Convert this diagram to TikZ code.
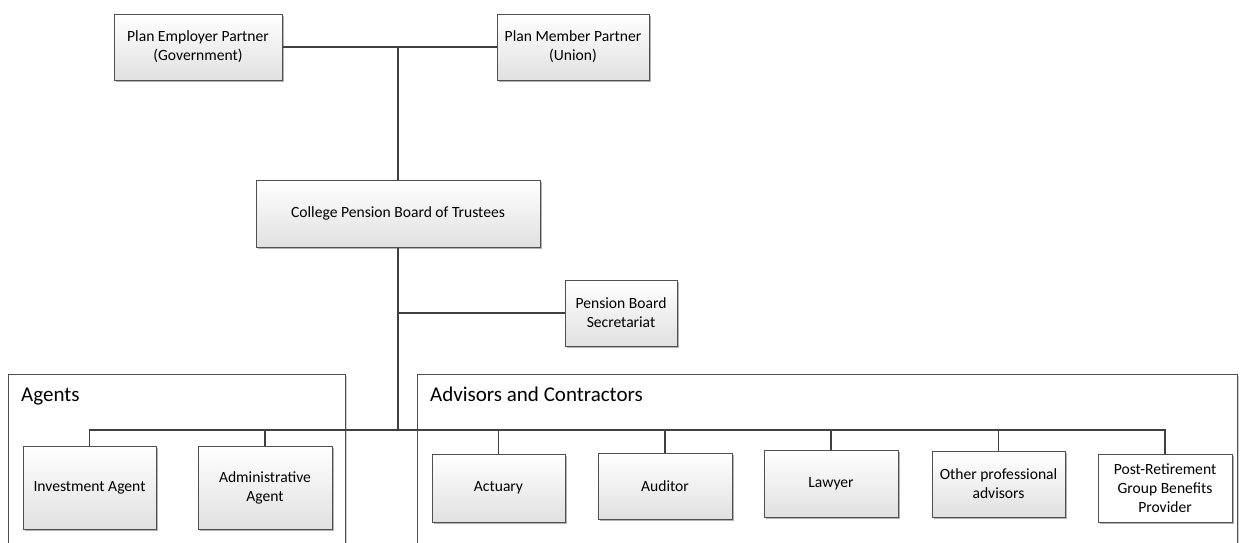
\documentclass[tikz,border=0pt]{standalone}
\usepackage{fontspec}
\setmainfont{Carlito}
\usetikzlibrary{shadows}
\definecolor{linec}{HTML}{404040}
\definecolor{boxc}{HTML}{505050}
\tikzset{
  box/.style={draw=boxc, line width=1pt, top color=white, bottom color=black!12,
    drop shadow={shadow xshift=2pt, shadow yshift=-2pt, fill=black!30, opacity=1},
    align=center, font=\fontsize{15.6}{19}\selectfont, inner sep=2pt},
  wbox/.style={box, top color=white, bottom color=white},
  frame/.style={draw=boxc, line width=1pt, fill=white,
    drop shadow={shadow xshift=2pt, shadow yshift=-2pt, fill=black!20, opacity=1}},
  conn/.style={draw=linec, line width=1.6pt},
  grp/.style={anchor=base west, font=\fontsize{21}{25}\selectfont, inner sep=0pt}
}
\begin{document}
\begin{tikzpicture}[x=1pt,y=-1pt]
\clip (0,0) rectangle (1246,542);
\fill[white] (0,0) rectangle (1246,542);
% frames
\path[frame] (8,374) rectangle (345,580);
\path[frame] (417,374) rectangle (1237,580);
\node[grp] (lagents) at (21,401) {Agents};
\node[grp] (ladv) at (430,401) {Advisors and Contractors};
% top
\node[box, minimum width=168pt, minimum height=66pt] (emp) at (198,47) {Plan Employer Partner\\(Government)};
\node[box, minimum width=152pt, minimum height=66pt] (mem) at (573,47) {Plan Member Partner\\(Union)};
\node[box, minimum width=284pt, minimum height=67pt] (college) at (398,213.5) {College Pension Board of Trustees};
\node[box, minimum width=112pt, minimum height=66pt] (sec) at (621,313) {Pension Board\\Secretariat};
% bottom
\node[box, minimum width=133pt, minimum height=83pt] (inv) at (89.5,487.5) {Investment Agent};
\node[box, minimum width=134pt, minimum height=83pt] (adm) at (265,487.5) {Administrative\\Agent};
\node[box, minimum width=133pt, minimum height=68pt] (act) at (498.5,488) {Actuary};
\node[box, minimum width=134pt, minimum height=66pt] (aud) at (665,486) {Auditor};
\node[box, minimum width=134pt, minimum height=67pt] (law) at (831,483.5) {Lawyer};
\node[box, minimum width=133pt, minimum height=66pt] (oth) at (998.5,484) {Other professional\\advisors};
\node[wbox, minimum width=134pt, minimum height=68pt] (post) at (1165,488) {Post-Retirement\\Group Benefits\\Provider};
\coordinate (top) at (398,47);
\coordinate (bus) at (398,430);
% connectors
\draw[conn] (emp.east) -- (mem.west);
\draw[conn] (top) -- (college.north);
\draw[conn] (college.south) -- (bus);
\draw[conn] (college.south |- sec.west) -- (sec.west);
\foreach \n in {inv,adm,act,aud,law,oth,post} {\draw[conn] (bus) -| (\n.north);}
\end{tikzpicture}
\end{document}
